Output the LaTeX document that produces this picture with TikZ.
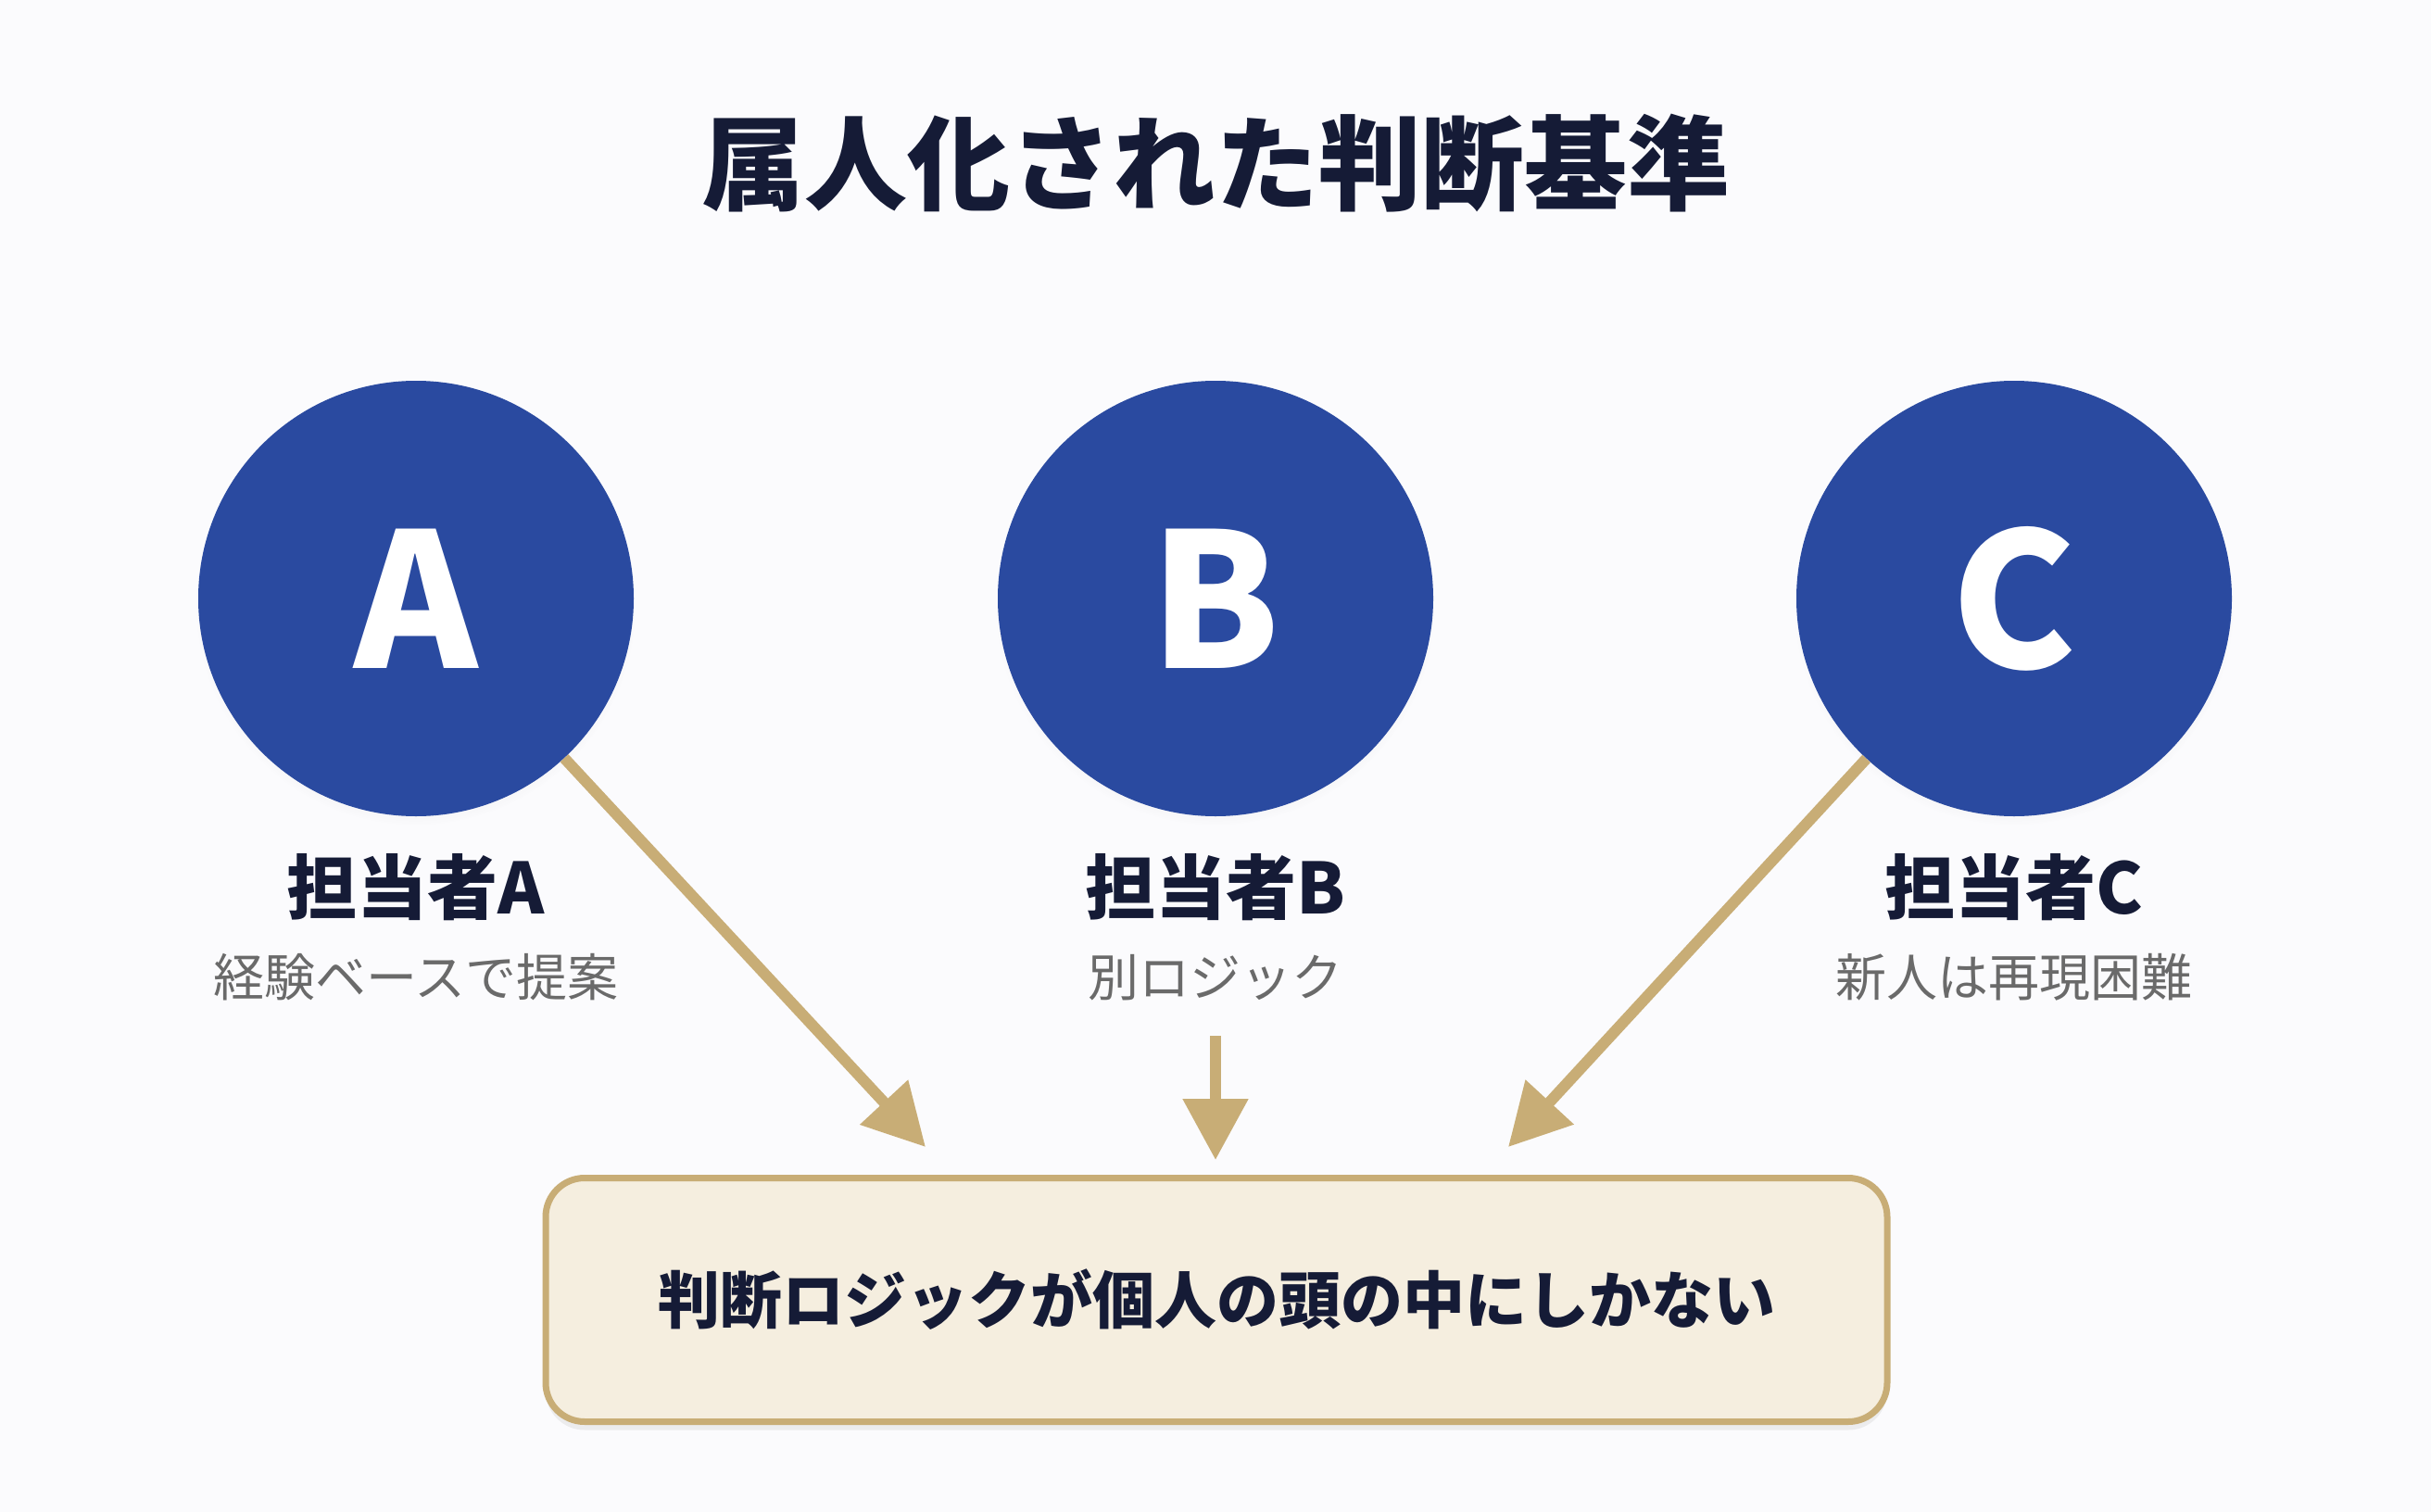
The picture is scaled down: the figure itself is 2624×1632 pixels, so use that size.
\documentclass[tikz,border=0pt]{standalone}
\usepackage{fontspec}
\setmainfont{Noto Sans CJK JP}
\usetikzlibrary{arrows.meta,shadows}
\definecolor{bgc}{HTML}{FBFBFD}
\definecolor{navy}{HTML}{151B36}
\definecolor{circblue}{HTML}{2A4AA0}
\definecolor{gold}{HTML}{C8AD76}
\definecolor{cream}{HTML}{F5EEDF}
\definecolor{subgray}{HTML}{6A6A6A}
\begin{document}
\begin{tikzpicture}[x=1pt,y=-1pt,
  person/.style={circle, fill=circblue, minimum size=470pt, inner sep=0pt,
    text=white, font=\bfseries\fontsize{202}{202}\selectfont,
    circular drop shadow={shadow xshift=0pt, shadow yshift=-7pt, shadow scale=1.01, opacity=0.12}},
  namelbl/.style={text=navy, font=\bfseries\fontsize{76}{80}\selectfont, inner sep=0pt},
  sublbl/.style={text=subgray, font=\fontsize{55}{60}\selectfont, inner sep=0pt},
  flow/.style={draw=gold, line width=12pt, -{Triangle[length=66pt,width=68pt]}},
  resultbox/.style={draw=gold, line width=7pt, fill=cream, rounded corners=42pt,
    minimum width=1448pt, minimum height=263pt, inner sep=0pt,
    text=navy, font=\bfseries\fontsize{67}{70}\selectfont,
    drop shadow={shadow xshift=0pt, shadow yshift=-9pt, opacity=0.12}}
]
\fill[bgc] (0,0) rectangle (2624,1632);
\useasboundingbox (0,0) rectangle (2624,1632);

\node[text=navy, font=\bfseries\fontsize{111}{120}\selectfont, inner sep=0pt] (title) at (1312,176) {属人化された判断基準};

\node[person] (A) at (449,646) {A};
\node[person] (B) at (1312,646) {B};
\node[person] (C) at (2174,646) {C};

\node[namelbl] (nA) at (449,958) {担当者A};
\node[namelbl] (nB) at (1312,958) {担当者B};
\node[namelbl] (nC) at (2174,958) {担当者C};

\node[sublbl] (sA) at (449,1055) {経験ベースで提案};
\node[sublbl] (sB) at (1312,1055) {別ロジック};
\node[sublbl] (sC) at (2174,1055) {新人は再現困難};

\node[resultbox] (box) at (1313,1403) {判断ロジックが個人の頭の中にしかない};

\coordinate (tA) at (999,1238);
\coordinate (tC) at (1628,1238);
\coordinate (bS) at (1312,1118);
\coordinate (tB) at (1312,1252);

\draw[flow] (A) -- (tA);
\draw[flow] (C) -- (tC);
\draw[flow] (bS) -- (tB);
\end{tikzpicture}
\end{document}
